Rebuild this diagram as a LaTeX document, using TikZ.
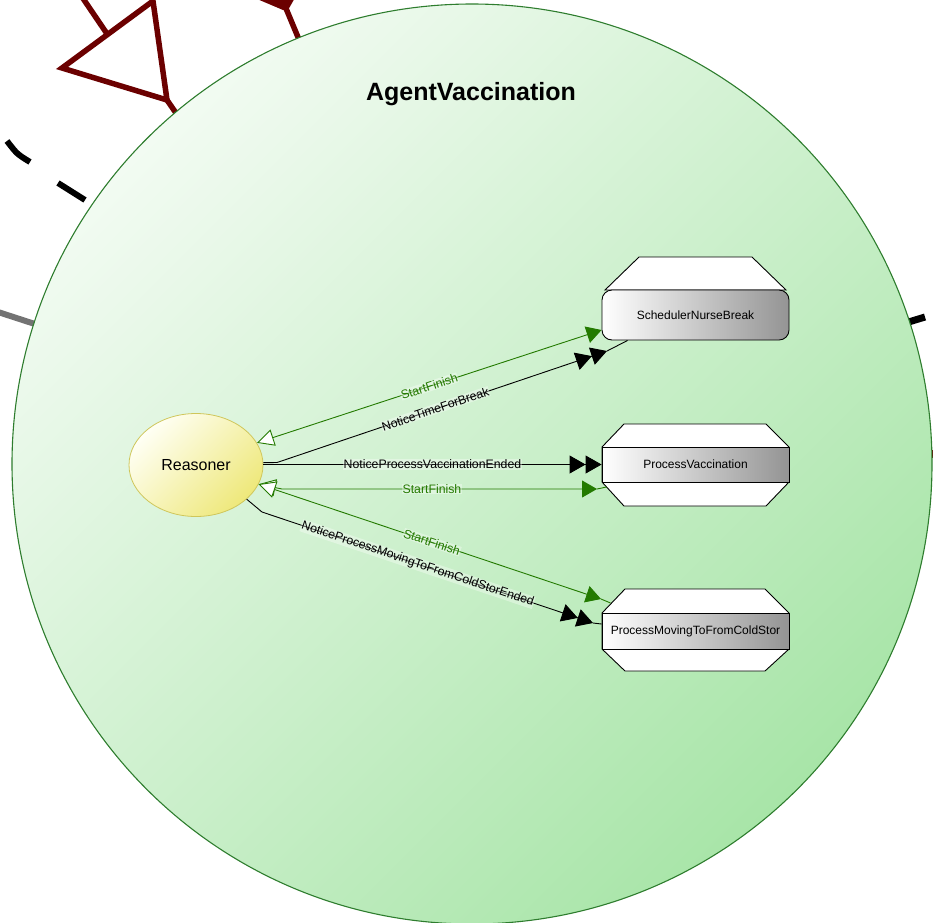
\documentclass[tikz,border=0pt]{standalone}
\usepackage{fontspec}
\setmainfont{Liberation Sans}
\usetikzlibrary{arrows.meta,calc,shapes.geometric}
\definecolor{bgA}{HTML}{F2FBF2}
\definecolor{bgB}{HTML}{A8E5A8}
\definecolor{circB}{HTML}{2E7D2E}
\definecolor{edgeG}{HTML}{237A00}
\definecolor{dred}{HTML}{6B0000}
\definecolor{ellA}{HTML}{FFFFF4}
\definecolor{ellB}{HTML}{EEE87A}
\definecolor{ellD}{HTML}{CFC65A}
\begin{document}
\begin{tikzpicture}[x=1pt,y=-1pt,
  band/.style={draw=black, line width=0.9pt, left color=white, right color=black!42,
    minimum width=187pt, minimum height=35pt, inner sep=0pt, font=\fontsize{12}{14}\selectfont},
  shell/.style={draw=black, line width=0.9pt, fill=white},
  gline/.style={draw=edgeG, line width=0.9pt},
  bline/.style={draw=black, line width=0.9pt},
  gtips/.style={{Triangle[length=17pt,width=17pt,fill=white]}-{Triangle[length=15pt,width=17pt]}},
  btips/.style={-{Triangle[length=16pt,width=18pt]Triangle[length=16pt,width=18pt]}},
  lbl/.style={sloped, font=\fontsize{12.3}{14}\selectfont, fill=white, fill opacity=0.35,
    text opacity=1, inner sep=0.5pt},
  glbl/.style={lbl, text=edgeG},
  deco/.style={line width=5.5pt}
]
\useasboundingbox (0,0) rectangle (933,922);
% outside decorations
\draw[deco, dred, line join=miter] (153,1) -- (62,68) -- (167,100) -- cycle;
\draw[deco, dred] (80,-6) -- (107.5,34.5);
\draw[deco, dred] (167,100) -- (178,116);
\fill[dred] (250,-4) -- (296,-4) -- (288,10) -- (283,10) -- cycle;
\draw[deco, dred] (285,6) -- (300,42);
\draw[deco, black, line width=6pt] (7,141) .. controls (17,154) .. (30,162);
\draw[deco, black, line width=6pt] (58,183) -- (85,200);
\draw[deco, black!55, line width=6pt] (-2,312) -- (38,325);
\draw[deco, black, line width=7pt] (902,324) -- (925,317);
\draw[deco, dred, line width=8pt] (926,454) -- (936,454);
% big circle
\draw[draw=circB, line width=1.1pt, top color=bgA, bottom color=bgB, shading angle=45]
  (472,464) circle[radius=460pt];
\node[font=\fontsize{25}{30}\selectfont\bfseries] (title) at (471,94) {AgentVaccination};
% reasoner
\node[ellipse, draw=ellD, line width=0.8pt, top color=ellA, bottom color=ellB, shading angle=45,
  minimum width=134pt, minimum height=103pt, inner sep=0pt, font=\fontsize{16}{19}\selectfont]
  (rs) at (196,465) {Reasoner};
% SchedulerNurseBreak
\draw[shell] (639,257) -- (752,257) -- (786,290) -- (605,290) -- cycle;
\node[band, rounded corners=10pt, minimum height=50pt] (snb) at (695.5,315) {SchedulerNurseBreak};
% ProcessVaccination
\draw[shell] (624,424) -- (766,424) -- (789,447) -- (789,482) -- (766,506) -- (624,506) -- (602,482) -- (602,447) -- cycle;
\node[band] (pv) at (695.5,464.5) {ProcessVaccination};
% ProcessMovingToFromColdStor
\draw[shell] (625,589) -- (765,589) -- (789,613) -- (789,649) -- (765,671) -- (625,671) -- (602,649) -- (602,613) -- cycle;
\node[band, minimum height=36pt] (pmc) at (695.5,631) {ProcessMovingToFromColdStor};
% connectors
\coordinate (bT) at (607,351);
\coordinate (dT) at (597,489);
\coordinate (eT) at (601,599);
\coordinate (fT) at (593,623);
\draw[gline, gtips] (rs.20) -- node[glbl]{StartFinish} ($(snb.west)+(0,15)$);
\draw[bline, btips] (rs.2) -- (277,462.5) -- node[lbl, pos=0.48]{NoticeTimeForBreak} (bT);
\draw[bline] (bT) -- ($(snb.south west)+(26,0)$);
\draw[bline, btips] (rs.east |- pv.west) -- node[lbl]{NoticeProcessVaccinationEnded} (pv.west);
\draw[gline, gtips] (rs.-17) -- (282,489) -- node[glbl, pos=0.476]{StartFinish} (dT);
\draw[gline] (dT) -- ($(pv.west)+(5,22.5)$);
\draw[gline, gtips] (rs.-17) -- node[glbl, pos=0.506]{StartFinish} (eT);
\draw[gline] (eT) -- ($(pmc.west)+(9,-28)$);
\draw[bline, btips] (rs.-34) -- (262,512) -- node[lbl, pos=0.47]{NoticeProcessMovingToFromColdStorEnded} (fT);
\draw[bline] (fT) -- ($(pmc.west)+(0,-7)$);
\end{tikzpicture}
\end{document}
